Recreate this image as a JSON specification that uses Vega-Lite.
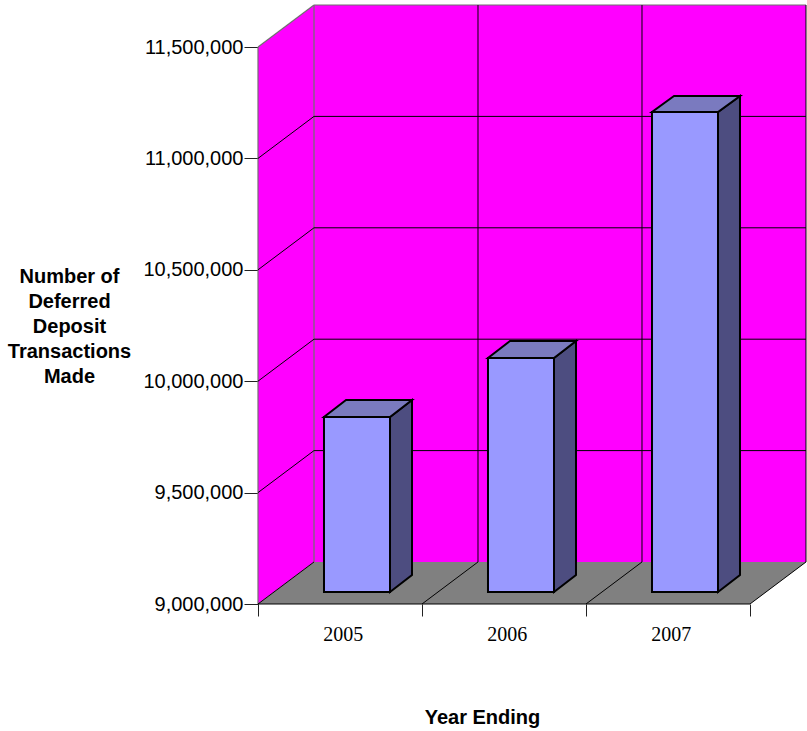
{
  "$schema": "https://vega.github.io/schema/vega-lite/v6.json",
  "width": 549,
  "height": 604,
  "autosize": {"type": "none"},
  "padding": {"left": 258, "top": 0, "right": 0, "bottom": 127},
  "background": "#ffffff",
  "view": {"stroke": null},
  "config": {"font": "Liberation Sans"},
  "datasets": {
    "walls": [
      {"part": "left", "x": 0, "y": 9000000, "y2": 11500000},
      {"part": "left", "x": 0.34146, "y": 9188510, "y2": 11688510},
      {"part": "back", "x": 0.34146, "y": 9188510, "y2": 11688510},
      {"part": "back", "x": 3.3415, "y": 9188510, "y2": 11688510}
    ],
    "floor": [
      {"y": 9000000, "x": 0, "x2": 3},
      {"y": 9188510, "x": 0.34146, "x2": 3.3415}
    ],
    "grid": [
      {"x": 0.34146, "x2": 3.3415, "y": 9688510, "y2": 9688510},
      {"x": 0.34146, "x2": 3.3415, "y": 10188510, "y2": 10188510},
      {"x": 0.34146, "x2": 3.3415, "y": 10688510, "y2": 10688510},
      {"x": 0.34146, "x2": 3.3415, "y": 11188510, "y2": 11188510},
      {"x": 0, "x2": 0.34146, "y": 9500000, "y2": 9688510},
      {"x": 0, "x2": 0.34146, "y": 10000000, "y2": 10188510},
      {"x": 0, "x2": 0.34146, "y": 10500000, "y2": 10688510},
      {"x": 0, "x2": 0.34146, "y": 11000000, "y2": 11188510},
      {"x": 1.34146, "x2": 1.34146, "y": 9188510, "y2": 11688510},
      {"x": 2.34146, "x2": 2.34146, "y": 9188510, "y2": 11688510},
      {"x": 3.3415, "x2": 3.3415, "y": 9188510, "y2": 11688510},
      {"x": 0, "x2": 0.34146, "y": 9000000, "y2": 9188510},
      {"x": 1, "x2": 1.34146, "y": 9000000, "y2": 9188510},
      {"x": 2, "x2": 2.34146, "y": 9000000, "y2": 9188510},
      {"x": 3, "x2": 3.3415, "y": 9000000, "y2": 9188510},
      {"x": 0, "x2": 3, "y": 9000000, "y2": 9000000}
    ],
    "frame": [
      {"x": 0, "x2": 0, "y": 9000000, "y2": 11500000},
      {"x": 0.34146, "x2": 0.34146, "y": 9188510, "y2": 11688510},
      {"x": 0, "x2": 0.34146, "y": 11500000, "y2": 11688510},
      {"x": 0.34146, "x2": 3.3415, "y": 11688510, "y2": 11688510}
    ],
    "sides": [
      {"year": 2005, "x": 0.8049, "y": 9839318, "y2": 9053860},
      {"year": 2005, "x": 0.939, "y": 9915619, "y2": 9130162},
      {"year": 2006, "x": 1.8049, "y": 10104129, "y2": 9053860},
      {"year": 2006, "x": 1.939, "y": 10180431, "y2": 9130162},
      {"year": 2007, "x": 2.8049, "y": 11208258, "y2": 9053860},
      {"year": 2007, "x": 2.939, "y": 11280072, "y2": 9130162}
    ],
    "tops": [
      {"year": 2005, "y": 9839318, "x": 0.4024, "x2": 0.8049},
      {"year": 2005, "y": 9915619, "x": 0.5366, "x2": 0.939},
      {"year": 2006, "y": 10104129, "x": 1.4024, "x2": 1.8049},
      {"year": 2006, "y": 10180431, "x": 1.5366, "x2": 1.939},
      {"year": 2007, "y": 11208258, "x": 2.4024, "x2": 2.8049},
      {"year": 2007, "y": 11280072, "x": 2.5366, "x2": 2.939}
    ],
    "fronts": [
      {"year": 2005, "x": 0.4024, "x2": 0.8049, "y": 9839318, "y2": 9053860},
      {"year": 2006, "x": 1.4024, "x2": 1.8049, "y": 10104129, "y2": 9053860},
      {"year": 2007, "x": 2.4024, "x2": 2.8049, "y": 11208258, "y2": 9053860}
    ],
    "years": [
      {"year": "2005", "x": 0.52, "y": 8833932},
      {"year": "2006", "x": 1.52, "y": 8833932},
      {"year": "2007", "x": 2.52, "y": 8833932}
    ]
  },
  "encoding": {
    "x": {
      "field": "x",
      "type": "quantitative",
      "scale": {"domain": [0, 3.3476], "nice": false, "zero": false},
      "axis": {
        "values": [0, 1, 2, 3],
        "labels": false,
        "domain": false,
        "grid": false,
        "tickSize": 12,
        "tickColor": "#222222",
        "title": "Year Ending",
        "titleFont": "Liberation Sans",
        "titleFontSize": 20,
        "titleFontWeight": "bold",
        "titleColor": "#000000",
        "titleBaseline": "alphabetic",
        "titleX": 224,
        "titleY": 119
      }
    },
    "y": {
      "field": "y",
      "type": "quantitative",
      "scale": {"domain": [9000000, 11710952], "nice": false, "zero": false},
      "axis": {
        "values": [9000000, 9500000, 10000000, 10500000, 11000000, 11500000],
        "format": ",d",
        "domain": false,
        "grid": false,
        "tickSize": 14,
        "tickColor": "#222222",
        "labelPadding": 1,
        "labelFont": "Liberation Sans",
        "labelFontSize": 20,
        "labelColor": "#000000",
        "title": ["Number of", "Deferred", "Deposit", "Transactions", "Made"],
        "titleFont": "Liberation Sans",
        "titleFontSize": 20,
        "titleFontWeight": "bold",
        "titleColor": "#000000",
        "titleAngle": 0,
        "titleAlign": "center",
        "titleBaseline": "alphabetic",
        "titleLineHeight": 25.2,
        "titleX": -189,
        "titleY": 282
      }
    }
  },
  "layer": [
    {
      "data": {"name": "walls"},
      "mark": {"type": "area", "fill": "#ff00ff", "opacity": 1},
      "encoding": {"y2": {"field": "y2"}, "detail": {"field": "part"}}
    },
    {
      "data": {"name": "floor"},
      "mark": {"type": "area", "orient": "horizontal", "fill": "#808080", "opacity": 1},
      "encoding": {"x2": {"field": "x2"}}
    },
    {
      "data": {"name": "frame"},
      "mark": {"type": "rule", "stroke": "#707070", "strokeWidth": 1.2},
      "encoding": {"x2": {"field": "x2"}, "y2": {"field": "y2"}}
    },
    {
      "data": {"name": "grid"},
      "mark": {"type": "rule", "stroke": "#000000", "strokeWidth": 1},
      "encoding": {"x2": {"field": "x2"}, "y2": {"field": "y2"}}
    },
    {
      "data": {"name": "sides"},
      "mark": {"type": "area", "fill": "#4d4d80", "opacity": 1, "stroke": "#000000", "strokeWidth": 2},
      "encoding": {"y2": {"field": "y2"}, "detail": {"field": "year"}}
    },
    {
      "data": {"name": "tops"},
      "mark": {"type": "area", "orient": "horizontal", "fill": "#7a7abf", "opacity": 1, "stroke": "#000000", "strokeWidth": 2},
      "encoding": {"x2": {"field": "x2"}, "detail": {"field": "year"}}
    },
    {
      "data": {"name": "fronts"},
      "mark": {"type": "rect", "fill": "#9999ff", "stroke": "#000000", "strokeWidth": 2},
      "encoding": {"x2": {"field": "x2"}, "y2": {"field": "y2"}}
    },
    {
      "data": {"name": "years"},
      "mark": {"type": "text", "font": "Liberation Serif", "fontSize": 20, "fill": "#000000", "align": "center", "baseline": "alphabetic"},
      "encoding": {"text": {"field": "year"}}
    }
  ]
}
